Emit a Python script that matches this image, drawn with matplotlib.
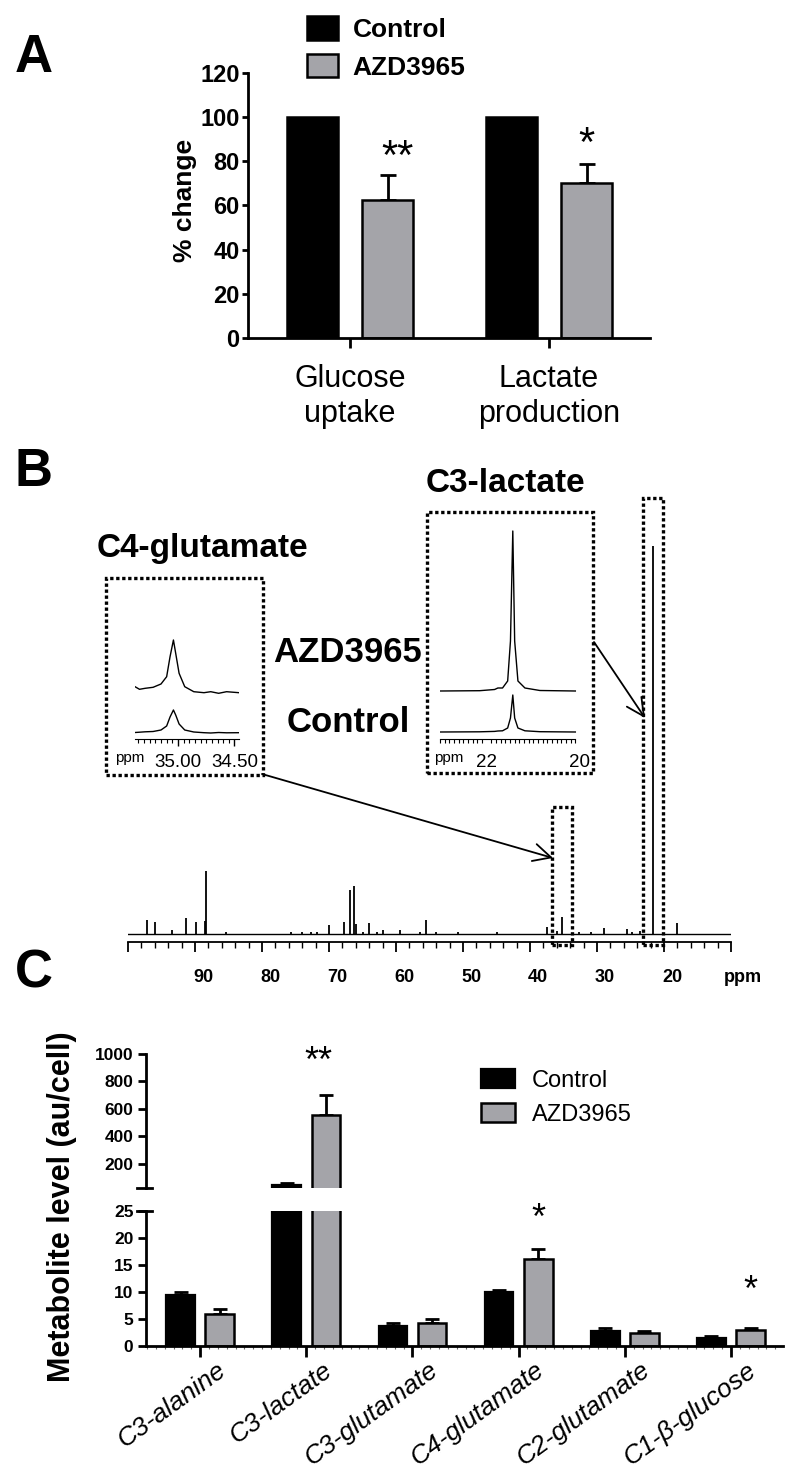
import numpy as np
import matplotlib
matplotlib.use('Agg')
import matplotlib.pyplot as plt
from matplotlib.patches import Rectangle
from matplotlib.ticker import MultipleLocator
from matplotlib.transforms import ScaledTranslation

plt.rcParams['font.family'] = ['Liberation Sans', 'DejaVu Sans']

# ---------------- panel A : % change ----------------
a_groups = ['Glucose\nuptake', 'Lactate\nproduction']
a_control = [100, 100]
a_azd = [62.5, 70.0]
a_azd_err = [11.5, 9.0]
a_stars = ['**', '*']
a_star_y = [76.5, 82.5]

# ---------------- panel B : 13C spectrum (ppm, rel. intensity, lactate = 100) ----------------
spec_ppm = [97.1, 95.9, 93.5, 91.4, 89.9, 88.5, 88.3, 85.3, 75.7, 74.0, 72.7, 71.8, 70.0,
            67.7, 66.8, 66.3, 65.9, 64.9, 64.0, 62.8, 61.9, 59.4, 56.4, 55.5, 54.0, 50.7,
            45.0, 37.4, 36.0, 35.2, 32.7, 30.9, 29.0, 25.5, 24.8, 23.6, 21.65, 18.0]
spec_int = [3.6, 3.1, 1.0, 4.0, 3.1, 3.4, 16.2, 0.6, 0.5, 0.4, 0.5, 0.5, 2.3,
            3.2, 11.3, 12.4, 2.6, 0.5, 2.9, 0.5, 1.0, 1.0, 0.5, 3.6, 0.5, 0.5,
            0.4, 1.7, 0.8, 4.3, 0.6, 0.6, 1.5, 1.3, 0.6, 0.7, 100.0, 2.9]

# C4-glutamate inset
glu_ppm = [35.38, 35.34, 35.29, 35.22, 35.15, 35.10, 35.07, 35.04, 35.02, 34.99,
           34.94, 34.86, 34.77, 34.71, 34.64, 34.57, 34.46]
glu_azd = [5.3, 2.7, 3.7, 4.7, 8.0, 15.3, 35.3, 52.0, 38.7, 18.7,
           5.3, 0.3, -0.7, 0.3, -1.3, 0.3, -0.7]
glu_ctrl = [0.5, 0.8, 1.2, 1.5, 3.0, 7.0, 16.0, 23.0, 18.0, 9.0,
            3.0, 1.0, 0.3, 0.0, 0.5, 0.2, 0.3]

# C3-lactate inset
lac_ppm = [23.0, 22.15, 21.83, 21.76, 21.66, 21.55, 21.49, 21.44, 21.40, 21.33, 21.18, 20.86, 20.1]
lac_azd = [0.0, 0.3, 1.5, 3.0, 3.0, 10.0, 50.0, 160.0, 50.0, 10.0, 3.0, 0.5, 0.0]
lac_ctrl = [0.0, 0.2, 0.6, 1.0, 1.2, 4.0, 14.0, 37.0, 14.0, 4.0, 1.2, 0.3, 0.0]

# ---------------- panel C : metabolite levels ----------------
c_labels = ['C3-alanine', 'C3-lactate', 'C3-glutamate', 'C4-glutamate', 'C2-glutamate', 'C1-\u03b2-glucose']
c_control = [9.5, 45.0, 3.65, 10.0, 2.8, 1.5]
c_control_err = [0.5, 15.0, 0.6, 0.3, 0.6, 0.4]
c_azd = [6.0, 555.0, 4.35, 16.2, 2.5, 3.0]
c_azd_err = [0.8, 150.0, 0.7, 1.8, 0.3, 0.3]
c_stars = [(1, '**', 870), (3, '*', 21.6), (5, '*', 8.3)]

GRAY = '#a4a4a9'
W, H = 800, 1475
fig = plt.figure(figsize=(W / 100, H / 100), dpi=100)


def fx(x):
    return x / W


def fy(y):
    return 1 - y / H


def px_axes(x0, y0, x1, y1):
    ax = fig.add_axes([fx(x0), fy(y1), (x1 - x0) / W, (y1 - y0) / H])
    ax.set_facecolor('none')
    return ax


def dotted_box(x0, y0, x1, y1):
    fig.add_artist(Rectangle((fx(x0), fy(y1)), (x1 - x0) / W, (y1 - y0) / H,
                             transform=fig.transFigure, fill=False, lw=2.4,
                             ls=(0, (1, 0.8)), color='black'))


# ======================= A =======================
ax = px_axes(248, 73, 650, 338)
xa = np.arange(len(a_groups))
ax.errorbar(xa + 0.19, a_azd, yerr=[np.zeros(len(a_azd)), a_azd_err], fmt='none',
            ecolor='black', elinewidth=2, capsize=6, capthick=2, zorder=1)
b1 = ax.bar(xa - 0.187, a_control, 0.255, color='black', edgecolor='black', lw=1.8,
            label='Control', zorder=2)
b2 = ax.bar(xa + 0.19, a_azd, 0.255, color=GRAY, edgecolor='black', lw=1.8,
            label='AZD3965', zorder=2)
for xi, s, yv in zip(xa, a_stars, a_star_y):
    ax.text(xi + 0.19 + (0.05 if len(s) > 1 else 0), yv, s, ha='center', va='baseline',
            fontsize=30)
ax.set_xlim(-0.513, 1.508)
ax.set_ylim(0, 120)
ax.set_yticks(np.arange(0, 121, 20))
ax.set_yticklabels([str(v) for v in range(0, 121, 20)], fontsize=17, fontweight='bold')
ax.set_xticks(xa)
ax.set_xticklabels(a_groups, fontsize=22)
ax.tick_params(axis='y', length=4, width=2, pad=2)
ax.tick_params(axis='x', length=7, width=2, pad=12)
for sp in ['top', 'right']:
    ax.spines[sp].set_visible(False)
for sp in ['left', 'bottom']:
    ax.spines[sp].set_linewidth(2)
fig.text(fx(185), fy(200), '% change', rotation=90, ha='center', va='center',
         fontsize=19, fontweight='bold')
ax.legend(loc='upper left', bbox_to_anchor=(fx(307), fy(16)), bbox_transform=fig.transFigure,
          frameon=False, prop={'weight': 'bold', 'size': 19}, handlelength=1.17,
          handleheight=1.0, handletextpad=0.55, labelspacing=0.45, borderpad=0,
          borderaxespad=0)
fig.text(fx(15), fy(33), 'A', fontsize=38, fontweight='bold', va='top', ha='left')

# ======================= B =======================
fig.text(fx(15), fy(447), 'B', fontsize=38, fontweight='bold', va='top', ha='left')
axs = px_axes(128, 480, 731, 942)
axs.axhline(0, color='black', lw=1.0)
axs.vlines(spec_ppm, 0, spec_int, color='black', lw=1.3)
axs.set_xlim(100, 10)
axs.set_ylim(-2.06, 117)
axs.set_yticks([])
for sp in ['top', 'right', 'left']:
    axs.spines[sp].set_visible(False)
axs.spines['bottom'].set_linewidth(1.3)
axs.xaxis.set_major_locator(MultipleLocator(10))
axs.xaxis.set_minor_locator(MultipleLocator(2))
axs.tick_params(axis='x', which='major', length=7, width=1.3, labelbottom=False)
axs.tick_params(axis='x', which='minor', length=4, width=1.0)
lab_tr = axs.get_xaxis_transform() + ScaledTranslation(0.08, 0, fig.dpi_scale_trans)
for v in range(90, 19, -10):
    axs.text(v, -0.0758, str(v), transform=lab_tr, ha='center', va='center',
             fontsize=13, fontweight='bold')
axs.text(1.02, -0.0758, 'ppm', transform=axs.transAxes, ha='center', va='center',
         fontsize=13, fontweight='bold')

# highlight boxes around the two peaks in the full spectrum
lac_i = spec_int.index(max(spec_int))
glu_i = spec_ppm.index(35.2)
for i, top in [(lac_i, 112.4), (glu_i, 32.7)]:
    c = spec_ppm[i]
    axs.add_patch(Rectangle((c + 1.45, -2.8), -2.9, top + 2.8, fill=False, lw=2.4,
                            ls=(0, (1, 0.8)), color='black', clip_on=False))

# inset: C4-glutamate
axg = px_axes(135, 630, 239, 739)
axg.plot(glu_ppm, np.array(glu_ctrl) + 6, color='black', lw=1.0)
axg.plot(glu_ppm, np.array(glu_azd) + 47, color='black', lw=1.0)
axg.set_xlim(35.38, 34.46)
axg.set_ylim(0, 109)
axg.set_yticks([])
axg.set_xticks([35.0, 34.5])
axg.set_xticklabels(['35.00', '34.50'], fontsize=13.5)
axg.xaxis.set_minor_locator(MultipleLocator(0.05))
axg.tick_params(axis='x', which='major', length=5, width=1, pad=6)
axg.tick_params(axis='x', which='minor', length=3, width=0.8)
for sp in ['top', 'right', 'left']:
    axg.spines[sp].set_visible(False)
fig.text(fx(130), fy(758), 'ppm', fontsize=11, ha='center', va='center')

# inset: C3-lactate
axl = px_axes(440, 515, 580, 739)
axl.plot(lac_ppm, np.array(lac_ctrl) + 7, color='black', lw=1.0)
axl.plot(lac_ppm, np.array(lac_azd) + 48, color='black', lw=1.0)
axl.set_xlim(23.0, 20.0)
axl.set_ylim(0, 224)
axl.set_yticks([])
axl.spines['bottom'].set_bounds(23.0, 20.1)
axl.set_xticks([22, 20])
axl.set_xticklabels(['22', '20'], fontsize=13.5)
axl.xaxis.set_minor_locator(MultipleLocator(0.1))
axl.tick_params(axis='x', which='major', length=0, width=1, pad=11)
axl.tick_params(axis='x', which='minor', length=3, width=0.8)
for sp in ['top', 'right', 'left']:
    axl.spines[sp].set_visible(False)
fig.text(fx(449), fy(758), 'ppm', fontsize=11, ha='center', va='center')

dotted_box(106, 578, 263, 775)
dotted_box(427, 512, 593, 773)
fig.text(fx(202), fy(548), 'C4-glutamate', fontsize=24, fontweight='bold', ha='center', va='center')
fig.text(fx(505), fy(484), 'C3-lactate', fontsize=24, fontweight='bold', ha='center', va='center')
fig.text(fx(348), fy(653), 'AZD3965', fontsize=25, fontweight='bold', ha='center', va='center')
fig.text(fx(348), fy(722), 'Control', fontsize=25, fontweight='bold', ha='center', va='center')

arrow = dict(arrowstyle='->,head_length=0.7,head_width=0.35', lw=1.3, color='black',
             shrinkA=0, shrinkB=0, mutation_scale=18)
axs.annotate('', xy=(fx(553), fy(858)), xycoords='figure fraction',
             xytext=(fx(262), fy(774)), textcoords='figure fraction', arrowprops=arrow)
axs.annotate('', xy=(fx(645), fy(718)), xycoords='figure fraction',
             xytext=(fx(594), fy(642)), textcoords='figure fraction', arrowprops=arrow)

# ======================= C =======================
fig.text(fx(15), fy(948), 'C', fontsize=38, fontweight='bold', va='top', ha='left')
ax_hi = px_axes(146, 1054, 783, 1188)
ax_lo = px_axes(146, 1211, 783, 1346)
xc = np.arange(len(c_labels))
ctrl = np.array(c_control)
azd = np.array(c_azd)
for a, floor in ((ax_hi, 25), (ax_lo, 0)):
    # only bars reaching this segment get their error bar drawn there
    mc = ctrl > floor
    ma = azd > floor
    a.errorbar(xc[mc] - 0.185, ctrl[mc], yerr=[np.zeros(mc.sum()), np.array(c_control_err)[mc]],
               fmt='none', ecolor='black', elinewidth=2, capsize=5, capthick=2, zorder=1)
    a.errorbar(xc[ma] + 0.185, azd[ma], yerr=[np.zeros(ma.sum()), np.array(c_azd_err)[ma]],
               fmt='none', ecolor='black', elinewidth=2, capsize=5, capthick=2, zorder=1)
    hc = a.bar(xc - 0.185, ctrl, 0.27, color='black', edgecolor='black', lw=1.6,
               label='Control', zorder=2)
    ha_ = a.bar(xc + 0.185, azd, 0.27, color=GRAY, edgecolor='black', lw=1.8,
                label='AZD3965', zorder=2)
    a.set_xlim(-0.51, 5.49)
    for sp in ['top', 'right']:
        a.spines[sp].set_visible(False)
    a.spines['left'].set_linewidth(2)
    a.tick_params(axis='y', length=6, width=2, pad=3)

ax_hi.set_ylim(25, 1000)
ax_hi.set_yticks([200, 400, 600, 800, 1000])
ax_hi.set_yticklabels(['200', '400', '600', '800', '1000'], fontsize=12.5, fontweight='bold')
ax_hi.spines['bottom'].set_visible(False)
ax_hi.set_xticks([])

ax_lo.set_ylim(0, 25)
ax_lo.set_yticks(np.arange(0, 26, 5))
ax_lo.set_yticklabels([str(v) for v in range(0, 26, 5)], fontsize=12.5, fontweight='bold')
ax_lo.spines['bottom'].set_linewidth(2)
ax_lo.set_xticks(xc)
ax_lo.set_xticklabels([''] * len(xc))
ax_lo.xaxis.set_minor_locator(MultipleLocator(1 / 12))
ax_lo.tick_params(axis='x', which='major', length=8, width=2)
ax_lo.tick_params(axis='x', which='minor', length=2, width=0.8, color='#666666')

# axis break marks
ax_hi.plot([-0.014, 0.0094], [0, 0], transform=ax_hi.transAxes, color='black', lw=2, clip_on=False)
ax_lo.plot([-0.014, 0.0094], [1, 1], transform=ax_lo.transAxes, color='black', lw=2, clip_on=False)

lab_tr = ax_lo.get_xaxis_transform() + ScaledTranslation(0.16, -0.12, fig.dpi_scale_trans)
for xi, s in zip(xc, c_labels):
    ax_lo.text(xi, 0, s, transform=lab_tr, rotation=36, ha='right', va='top',
               rotation_mode='anchor', fontstyle='italic', fontsize=19)

for idx, s, yv in c_stars:
    target = ax_hi if yv > 25 else ax_lo
    target.text(idx + 0.185 - (0.07 if len(s) > 1 else 0), yv, s, ha='center',
                va='baseline', fontsize=26, clip_on=False)

fig.text(fx(62), fy(1207), 'Metabolite level (au/cell)', rotation=90, ha='center',
         va='center', fontsize=22, fontweight='bold')
fig.legend(handles=[hc, ha_], labels=['Control', 'AZD3965'], loc='upper left',
           bbox_to_anchor=(fx(481), fy(1069)), frameon=False, prop={'size': 17},
           handlelength=1.44, handleheight=0.85, handletextpad=0.7, labelspacing=0.5,
           borderpad=0, borderaxespad=0)

fig.savefig('out.png', dpi=100)
